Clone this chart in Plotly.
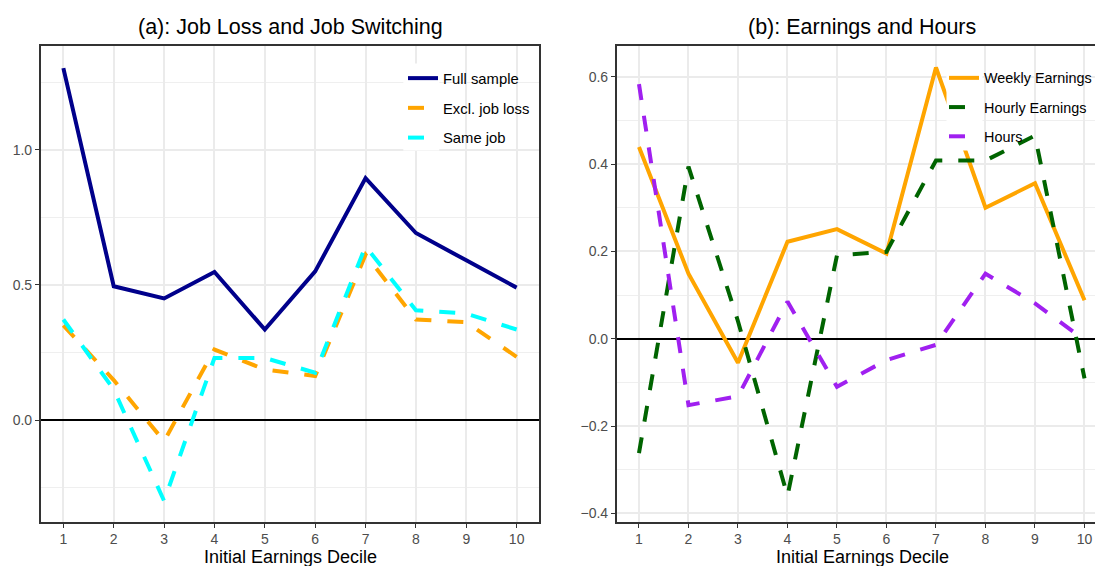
import plotly.graph_objects as go

# Initial earnings deciles
deciles = list(range(1, 11))

# Panel (a): job loss and job switching
full_sample = [1.302, 0.495, 0.45, 0.548, 0.335, 0.55, 0.895, 0.692, 0.591, 0.49]
excl_job_loss = [0.35, 0.148, -0.078, 0.261, 0.187, 0.163, 0.612, 0.372, 0.362, 0.234]
same_job = [0.372, 0.113, -0.299, 0.23, 0.23, 0.175, 0.643, 0.406, 0.394, 0.335]

# Panel (b): earnings and hours
weekly_earnings = [0.439, 0.149, -0.055, 0.222, 0.251, 0.195, 0.621, 0.30, 0.356, 0.088]
hourly_earnings = [-0.262, 0.394, 0.04, -0.36, 0.191, 0.199, 0.408, 0.408, 0.465, -0.091]
hours = [0.583, -0.152, -0.132, 0.085, -0.11, -0.049, -0.014, 0.149, 0.081, -0.003]

FONT = "Liberation Sans, Arial, sans-serif"
# the page has an 8px body margin, so the figure is 8px smaller than the window
OFF = 8
W, H = 1103 - OFF, 566 - OFF
LW = 4
DASH = "16px,16px"


def px(x):
    return (x - OFF) / W


def py(y):
    return 1 - (y - OFF) / H


fig = go.Figure()

left = [
    ("Full sample", full_sample, "#00008B", "solid"),
    ("Excl. job loss", excl_job_loss, "#FFA500", DASH),
    ("Same job", same_job, "#00FFFF", DASH),
]
for i, (name, vals, col, dash) in enumerate(left):
    fig.add_trace(go.Scatter(
        x=deciles, y=vals, mode="lines", name=name,
        line=dict(color=col, width=LW, dash=dash),
        xaxis="x", yaxis="y", legend="legend", legendgroup="a%d" % i,
    ))

right = [
    ("Weekly Earnings", weekly_earnings, "#FFA500", "solid"),
    ("Hourly Earnings", hourly_earnings, "#006400", DASH),
    ("Hours", hours, "#A020F0", DASH),
]
for i, (name, vals, col, dash) in enumerate(right):
    fig.add_trace(go.Scatter(
        x=deciles, y=vals, mode="lines", name=name,
        line=dict(color=col, width=LW, dash=dash),
        xaxis="x2", yaxis="y2", legend="legend2", legendgroup="b%d" % i,
    ))

ydom = [py(521.7), py(45.7)]

common_x = dict(
    tickvals=deciles, ticks="outside", ticklen=4, tickwidth=1.3, tickcolor="#333333",
    tickfont=dict(size=14, color="#4D4D4D"), showgrid=True, gridcolor="#EBEBEB",
    gridwidth=1.5, zeroline=False, showline=True, linecolor="#333333", linewidth=1.6,
)
common_y = dict(
    ticks="outside", ticklen=4, tickwidth=1.3, tickcolor="#333333",
    tickfont=dict(size=14, color="#4D4D4D"), showgrid=True, gridcolor="#EBEBEB",
    gridwidth=1.5, zeroline=True, zerolinecolor="black", zerolinewidth=1.8,
    showline=True, linecolor="#333333", linewidth=1.6,
)
minor_grid = dict(showgrid=True, gridcolor="#EFEFEF", gridwidth=0.8, ticks="")

# only the legend keys have a white background (ggplot legend.key)
legend_style = dict(xanchor="left", yanchor="top", bgcolor="rgba(0,0,0,0)",
                    font=dict(size=14.8, color="black"), itemwidth=30, tracegroupgap=7.5)

key_boxes = []
for x0 in (403.3, 946.5):
    key_boxes.append(dict(
        type="rect", xref="paper", yref="paper",
        x0=px(x0), x1=px(x0 + 36), y0=py(150.5), y1=py(63.5),
        fillcolor="white", line=dict(width=0), layer="above",
    ))

fig.update_layout(
    width=W, height=H,
    margin=dict(l=0, r=0, t=0, b=0),
    paper_bgcolor="white", plot_bgcolor="white",
    font=dict(family=FONT, color="black"),
    xaxis=dict(common_x, domain=[px(40.7), px(539.3)], range=[0.55, 10.45], mirror=True, anchor="y"),
    yaxis=dict(common_y, domain=ydom, range=[-0.376, 1.385], mirror=True, anchor="x",
               tickvals=[0, 0.5, 1.0], ticktext=["0.0", "0.5", "1.0"],
               minor=dict(minor_grid, tickvals=[-0.25, 0.25, 0.75, 1.25])),
    xaxis2=dict(common_x, domain=[px(616.7), 1.0], range=[0.55, 10.374], mirror=True, anchor="y2"),
    yaxis2=dict(common_y, domain=ydom, range=[-0.419, 0.671], mirror=False, anchor="x2",
                tickvals=[-0.4, -0.2, 0, 0.2, 0.4, 0.6],
                ticktext=["\u22120.4", "\u22120.2", "0.0", "0.2", "0.4", "0.6"],
                minor=dict(minor_grid, tickvals=[-0.3, -0.1, 0.1, 0.3, 0.5])),
    legend=dict(legend_style, x=px(403), y=py(62)),
    legend2=dict(legend_style, x=px(944), y=py(62), font=dict(size=14.4, color="black")),
    shapes=key_boxes,
    annotations=[
        dict(text="(a): Job Loss and Job Switching", x=px(290), y=py(27.5),
             xref="paper", yref="paper", showarrow=False, font=dict(size=21.5),
             xanchor="center", yanchor="middle"),
        dict(text="(b): Earnings and Hours", x=px(862), y=py(27.5),
             xref="paper", yref="paper", showarrow=False, font=dict(size=21.5),
             xanchor="center", yanchor="middle"),
        dict(text="Initial Earnings Decile", x=px(290), y=py(557),
             xref="paper", yref="paper", showarrow=False, font=dict(size=18),
             xanchor="center", yanchor="middle"),
        dict(text="Initial Earnings Decile", x=px(862), y=py(557),
             xref="paper", yref="paper", showarrow=False, font=dict(size=18),
             xanchor="center", yanchor="middle"),
    ],
)

fig.write_html("out.html")
